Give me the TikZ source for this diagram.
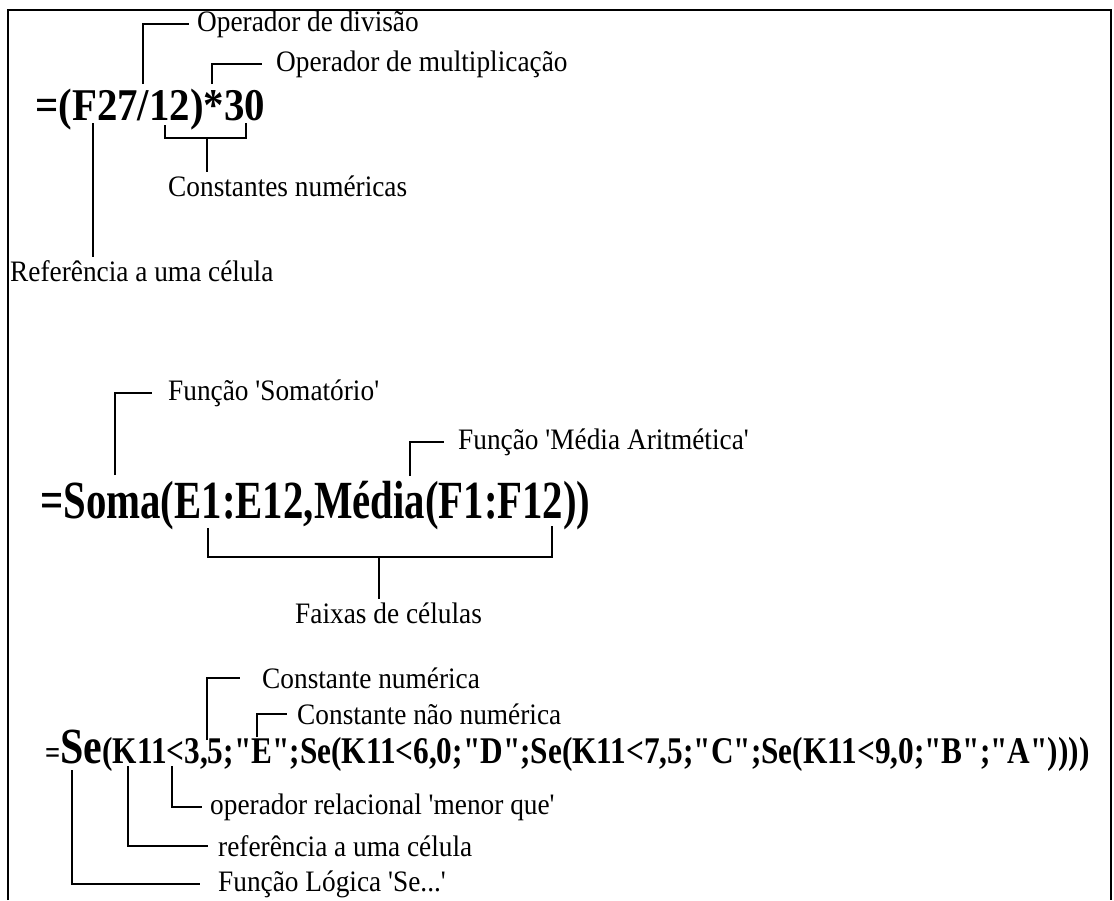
\documentclass[tikz,border=0pt]{standalone}
\usepackage{fontspec}
\usetikzlibrary{positioning}
\newfontfamily\lblfont[FakeStretch=0.92,Ligatures=TeXOff]{Liberation Serif}
\newfontfamily\fmlA[FakeStretch=0.9,Ligatures=TeXOff]{Liberation Serif}
\newfontfamily\fmlB[FakeStretch=0.76,Ligatures=TeXOff]{Liberation Serif}
\newfontfamily\fmlC[FakeStretch=0.83,Ligatures=TeXOff]{Liberation Serif}
\newcommand{\Sz}[1]{\fontsize{#1}{#1}\selectfont}

\begin{document}
\begin{tikzpicture}[x=1pt, y=-1pt,
	lbl/.style={font=\lblfont\Sz{29.7}, inner xsep=0pt, inner ysep=3pt, anchor=west},
	fml/.style={inner sep=0pt, anchor=base west},
	lead/.style={line width=2.2pt},
	frame/.style={line width=2.6pt}]
	\useasboundingbox (0,0) rectangle (1114,900);
	\draw[frame] (8,900) |- (1111,10) -- (1111,900);

	% Define nodes
	\node[fml, font=\fmlA\bfseries\Sz{45.4}] (F1) at (35,120) {=(F27/12)*30};
	\coordinate (Div) at (143,84);
	\coordinate (Mul) at (212,84);
	\coordinate (Ref) at (93,123);
	\coordinate (CteL) at (165,125);
	\coordinate (CteR) at (246,123);
	\coordinate (Cte) at (207,138);
	\node[lbl] (LDiv) at (197,24) {Operador de divisão};
	\node[lbl] (LMul) at (276,64) {Operador de multiplicação};
	\node[lbl] (LCte) at (168,186) {Constantes numéricas};
	\node[lbl] (LRef) at (10,271) {Referência a uma célula};

	\node[fml, font=\fmlB\bfseries\Sz{53.7}] (F2) at (40,518) {=Soma(E1:E12,Média(F1:F12))};
	\coordinate (Som) at (115,475);
	\coordinate (Med) at (410,476);
	\coordinate (FxL) at (208,528);
	\coordinate (FxR) at (552,526);
	\coordinate (Fx) at (379,557);
	\node[lbl] (LSom) at (168,393) {Função 'Somatório'};
	\node[lbl] (LMed) at (458,442) {Função 'Média Aritmética'};
	\node[lbl] (LFx) at (295,613) {Faixas de células};

	\node[fml, font=\fmlC\bfseries\Sz{37.7}] (F3) at (45,763) {{\Sz{32}=}{\Sz{50.6}Se}(K11<3,5;"E";Se(K11<6,0;"D";Se(K11<7,5;"C";Se(K11<9,0;"B";"A"))))};
	\coordinate (Cn) at (207,740);
	\coordinate (Cnn) at (257,737);
	\coordinate (Op) at (172,766);
	\coordinate (Rf) at (128,766);
	\coordinate (Se) at (72,770);
	\node[lbl] (LCn) at (262,678) {Constante numérica};
	\node[lbl] (LCnn) at (297,714) {Constante não numérica};
	\node[lbl] (LOp) at (210,807) {operador relacional 'menor que'};
	\node[lbl] (LRf) at (218,846) {referência a uma célula};
	\node[lbl] (LSe) at (218,884) {Função Lógica 'Se...'};

	% Connect the nodes
	\draw[lead] (Div) |- ([xshift=-8pt]LDiv.west);
	\draw[lead] (Mul) |- ([xshift=-14pt]LMul.west);
	\draw[lead] (CteL) |- (Cte) -| (CteR);
	\draw[lead] (Cte) -- (Cte |- LCte.north);
	\draw[lead] (Ref) -- (Ref |- LRef.north);

	\draw[lead] (Som) |- ([xshift=-16pt]LSom.west);
	\draw[lead] (Med) |- ([xshift=-14pt]LMed.west);
	\draw[lead] (FxL) |- (Fx) -| (FxR);
	\draw[lead] (Fx) -- (Fx |- LFx.north);

	\draw[lead] (Cn) |- ([xshift=-22pt]LCn.west);
	\draw[lead] (Cnn) |- ([xshift=-10pt]LCnn.west);
	\draw[lead] (Op) |- ([xshift=-8pt]LOp.west);
	\draw[lead] (Rf) |- ([xshift=-10pt]LRf.west);
	\draw[lead] (Se) |- ([xshift=-18pt]LSe.west);
\end{tikzpicture}
\end{document}
